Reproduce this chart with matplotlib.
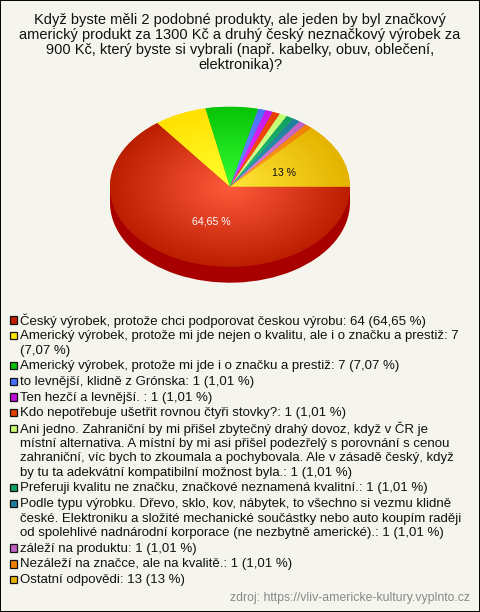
import numpy as np
import matplotlib
matplotlib.use("Agg")
import matplotlib.pyplot as plt
from matplotlib.colors import LinearSegmentedColormap
from matplotlib.patches import Rectangle

plt.rcParams['font.family'] = ['Liberation Sans', 'DejaVu Sans']

title_lines = ["Když byste měli 2 podobné produkty, ale jeden by byl značkový",
               "americký produkt za 1300 Kč a druhý český neznačkový výrobek za",
               "900 Kč, který byste si vybrali (např. kabelky, obuv, oblečení,",
               "elektronika)?"]
values = [64, 7, 7, 1, 1, 1, 1, 1, 1, 1, 1, 13]
legend_items = [
    ["Český výrobek, protože chci podporovat českou výrobu: 64 (64,65 %)"],
    ["Americký výrobek, protože mi jde nejen o kvalitu, ale i o značku a prestiž: 7", "(7,07 %)"],
    ["Americký výrobek, protože mi jde i o značku a prestiž: 7 (7,07 %)"],
    ["to levnější, klidně z Grónska: 1 (1,01 %)"],
    ["Ten hezčí a levnější. : 1 (1,01 %)"],
    ["Kdo nepotřebuje ušetřit rovnou čtyři stovky?: 1 (1,01 %)"],
    ["Ani jedno. Zahraniční by mi přišel zbytečný drahý dovoz, když v ČR je",
     "místní alternativa. A místní by mi asi přišel podezřelý s porovnání s cenou",
     "zahraniční, víc bych to zkoumala a pochybovala. Ale v zásadě český, když",
     "by tu ta adekvátní kompatibilní možnost byla.: 1 (1,01 %)"],
    ["Preferuji kvalitu ne značku, značkové neznamená kvalitní.: 1 (1,01 %)"],
    ["Podle typu výrobku. Dřevo, sklo, kov, nábytek, to všechno si vezmu klidně",
     "české. Elektroniku a složité mechanické součástky nebo auto koupím raději",
     "od spolehlivé nadnárodní korporace (ne nezbytně americké).: 1 (1,01 %)"],
    ["záleží na produktu: 1 (1,01 %)"],
    ["Nezáleží na značce, ale na kvalitě.: 1 (1,01 %)"],
    ["Ostatní odpovědi: 13 (13 %)"],
]
swatch_colors = ['#C01F00', '#FFE600', '#0ABF0A', '#4A70FF', '#C010D8', '#E04000',
                 '#C8FF70', '#10A060', '#207F9F', '#C060C0', '#F08000', '#E8B400']
inner_colors = ['#FF5A3C', '#FFFF30', '#33FF33', '#7090FF', '#EE33FF', '#FF5520',
                '#E0FFA0', '#30C880', '#30A0B0', '#E090E0', '#FFA030', '#FFE638']
outer_colors = ['#BB1E00', '#FFE000', '#08C408', '#4A70FF', '#C818E8', '#E84000',
                '#C4FF70', '#10A060', '#207F9F', '#C060C0', '#F08000', '#E5B300']
side_color = '#A80000'
source = "zdroj: https://vliv-americke-kultury.vyplnto.cz"

W, H = 480, 612
BG = '#F5F5EE'
fig = plt.figure(figsize=(W / 100, H / 100), dpi=100, facecolor=BG)

bg = fig.add_axes([0, 0, 1, 1])
bg.set_xlim(0, W)
bg.set_ylim(H, 0)
bg.set_xticks([])
bg.set_yticks([])
bg.set_facecolor(BG)
for s in bg.spines.values():
    s.set_color('black')
    s.set_linewidth(1.4)

for i, line in enumerate(title_lines):
    bg.text(240, 20 + 15 * i, line, ha='center', va='center', fontsize=10.55, color='#111111')

# pie: pixel box x 110-350, y 106.7-282.7
depth = 0.2
pa = fig.add_axes([110 / W, 1 - 282.7 / H, 240 / W, 176 / H], zorder=2)
pa.patch.set_alpha(0)
pa.pie(values, radius=1, center=(0, -depth), startangle=0, counterclock=False,
       colors=[side_color] * len(values), wedgeprops=dict(linewidth=0))
pa.add_patch(Rectangle((-1, -depth), 2, depth, fc=side_color, ec='none'))
wedges, _ = pa.pie(values, radius=1, center=(0, 0), startangle=0, counterclock=False,
                   colors=outer_colors, wedgeprops=dict(linewidth=0))
xx, yy = np.meshgrid(np.linspace(-1, 1, 500), np.linspace(-1, 1, 400))
rr = np.sqrt(xx ** 2 + yy ** 2)
for w, c0, c1 in zip(wedges, inner_colors, outer_colors):
    cmap = LinearSegmentedColormap.from_list('g', [c0, c1])
    im = pa.imshow(rr, extent=(-1, 1, -1, 1), origin='lower', cmap=cmap, vmin=0, vmax=1,
                   aspect='auto', interpolation='bilinear', zorder=3)
    im.set_clip_path(w)
pa.set_aspect('auto')
pa.set_xlim(-1, 1)
pa.set_ylim(-1 - depth, 1)
pa.axis('off')

la = fig.add_axes([0, 0, 1, 1], zorder=3)
la.set_xlim(0, W)
la.set_ylim(H, 0)
la.axis('off')
la.text(284, 173.5, "13 %", ha='center', va='center', fontsize=7.6, color='#111111')
la.text(211.5, 222, "64,65 %", ha='center', va='center', fontsize=7.6, color='white')

y = 320.5
for item, col in zip(legend_items, swatch_colors):
    la.add_patch(Rectangle((9.5, y - 4.5), 7.5, 7.5, fc=col, ec='#111111', lw=0.9))
    for j, line in enumerate(item):
        la.text(20, y + 14.5 * j, line, ha='left', va='center', fontsize=9.55, color='#111111')
    y += 14.5 * (len(item) - 1) + 15.7

la.text(470, 598.5, source, ha='right', va='center', fontsize=8.8, color='#888888')

fig.savefig('out.png', dpi=100, facecolor=BG)
